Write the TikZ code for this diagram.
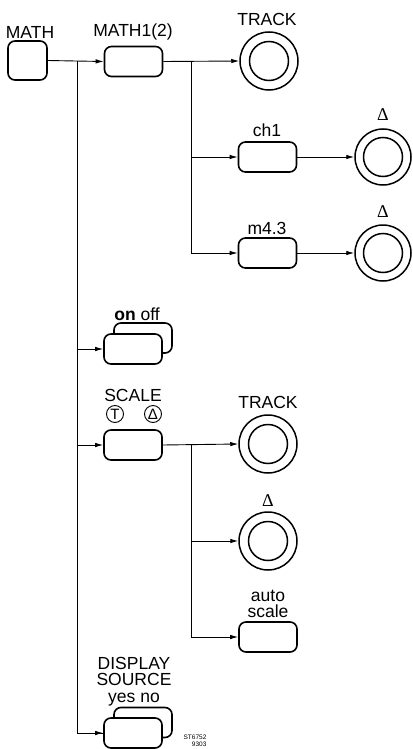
\documentclass[tikz,border=0pt]{standalone}
\usepackage{fontspec}
\setmainfont{Liberation Sans}
\newfontfamily\serifdelta{Liberation Serif}
\usetikzlibrary{arrows.meta}
\begin{document}
\begin{tikzpicture}[x=1pt,y=-1pt,
  key/.style={draw,line width=1.6pt,rounded corners=7pt,minimum width=58pt,minimum height=30pt,inner sep=0pt,fill=white},
  sqkey/.style={draw,line width=1.6pt,rounded corners=7pt,minimum width=39pt,minimum height=39pt,inner sep=0pt},
  knob/.style={draw,circle,line width=1.5pt,minimum size=58pt,inner sep=0pt,
     path picture={\draw[line width=1.5pt] (path picture bounding box.center) circle[radius=19.5pt];}},
  lbl/.style={font=\fontsize{17.5}{18}\selectfont,inner sep=0pt,align=center},
  dlt/.style={font=\serifdelta\fontsize{18}{18}\selectfont,inner sep=0pt},
  con/.style={line width=0.9pt},
  arr/.style={con,-{Latex[length=8pt,width=4.5pt]}},
  small/.style={draw,circle,line width=0.9pt,minimum size=17pt,inner sep=0pt,font=\fontsize{15}{15}\selectfont}]
\useasboundingbox (0,0) rectangle (412,749);
% top row
\node[sqkey] (math) at (27.5,60.5) {};
\node[lbl] (mathl) at (30,32) {MATH};
\node[key] (m1) at (133.5,61.5) {};
\node[lbl] (m1l) at (133,32) {MATH1(2)};
\node[knob] (tr1) at (269,61) {};
\node[lbl] (tr1l) at (267,19) {TRACK};
\node[key] (ch1) at (267.5,157) {};
\node[lbl] (ch1l) at (267,130) {ch1};
\node[knob,minimum size=56pt] (d1) at (383,157) {};
\node[dlt] (d1l) at (383,115) {Δ};
\node[key] (m43) at (267.5,253) {};
\node[lbl] (m43l) at (267,228) {m4.3};
\node[knob,minimum size=56pt] (d2) at (383,253) {};
\node[dlt] (d2l) at (383,212) {Δ};
% on off
\node[key] (onb) at (143,338) {};
\node[key] (on) at (133,349) {};
\node[lbl] (onl) at (137,314) {\textbf{on} off};
% scale
\node[lbl] (scl) at (133,395) {SCALE};
\node[small] (tc) at (115,414) {T};
\node[small] (dc) at (153,414) {Δ};
\node[key] (sc) at (133,445) {};
\node[knob] (tr2) at (268,444) {};
\node[lbl] (tr2l) at (268,402) {TRACK};
\node[knob] (d3) at (268,541) {};
\node[dlt] (d3l) at (268,501) {Δ};
\node[key] (as) at (268,637) {};
\node[lbl,anchor=base] (asl1) at (268,601) {auto};
\node[lbl,anchor=base] (asl2) at (268,617) {scale};
% display source
\node[key] (dsb) at (143,722.5) {};
\node[key] (ds) at (133,733) {};
\node[lbl,anchor=base] (dsl1) at (134,669) {DISPLAY};
\node[lbl,anchor=base] (dsl2) at (134,685) {SOURCE};
\node[lbl,anchor=base] (dsl3) at (134,702) {yes no};
\node[font=\fontsize{6.5}{7}\selectfont,inner sep=0pt,align=right] (st) at (195,741) {ST6752\\\hspace*{0pt}\hfill 9303};
% connectors
\coordinate (t1) at (77,61);
\coordinate (b1) at (191,61);
\coordinate (b2) at (191,444);
\draw[arr] (math.east) -- (m1.west);
\draw[con] (t1) |- (ds.west);
\draw[arr] (77,733) -- (ds.west);
\draw[arr] (77,349) -- (on.west);
\draw[arr] (77,445) -- (sc.west);
\draw[arr] (m1.east) -- (tr1.west);
\draw[con] (b1) |- (191,253);
\draw[arr] (191,157) -- (ch1.west);
\draw[arr] (191,253) -- (m43.west);
\draw[arr] (ch1.east) -- (d1.west);
\draw[arr] (m43.east) -- (d2.west);
\draw[arr] (sc.east) -- (tr2.west);
\draw[con] (b2) -- (191,637);
\draw[arr] (191,541) -- (d3.west);
\draw[arr] (191,637) -- (as.west);
\end{tikzpicture}
\end{document}
